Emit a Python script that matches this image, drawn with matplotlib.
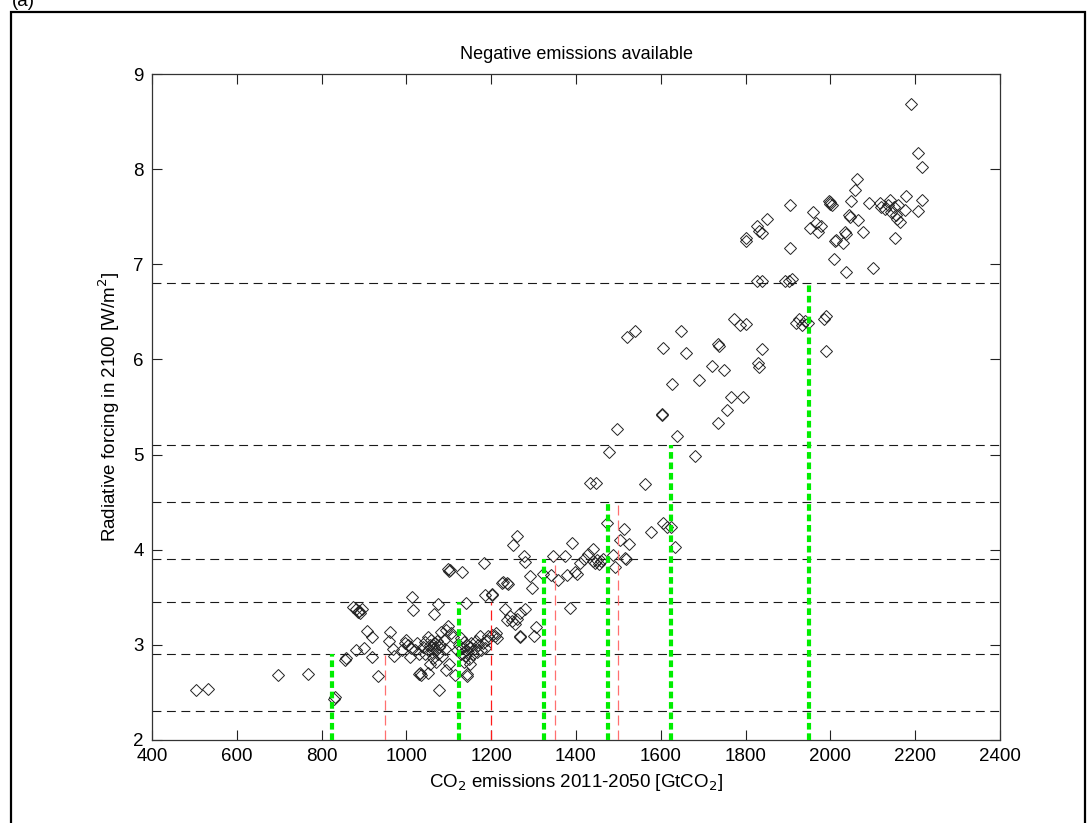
import matplotlib
matplotlib.use("Agg")
import matplotlib.pyplot as plt
from matplotlib.patches import Rectangle

plt.rcParams['font.family'] = ['Liberation Sans', 'DejaVu Sans']

# scenario results: cumulative CO2 2011-2050 vs forcing in 2100
emissions = [
    504, 531, 696, 767, 829, 831, 855, 858, 881,
    873, 880, 885, 890, 896, 888, 906, 920, 901, 919, 932,
    961, 960, 968, 971, 997, 1004, 1010, 1008, 990, 1000,
    1014, 1016, 1030, 1033, 1035, 1052, 1065, 1074, 1077,
    1040, 1045, 1050, 1055, 1058, 1060, 1062, 1065, 1067, 1070, 1072, 1075,
    1078, 1080, 1085, 1088, 1050, 1045, 1020, 1025, 1030, 1063, 1070, 1092, 1055,
    1082, 1094, 1105, 1098, 1110, 1093, 1115, 1100,
    1099, 1101, 1104, 1132, 1140, 1142, 1144,
    1120, 1125, 1128, 1132, 1135, 1138, 1140, 1143, 1146, 1148, 1150, 1153,
    1156, 1160, 1163, 1166, 1170, 1175, 1180, 1185, 1190, 1135, 1150, 1128,
    1173, 1193, 1203, 1209, 1211, 1213, 1203, 1185, 1201, 1183,
    1225, 1228, 1240, 1238, 1233, 1237, 1245, 1250, 1257, 1261, 1268, 1280,
    1268, 1269, 1302, 1306, 1280, 1296, 1260, 1252, 1277,
    1291, 1323, 1342, 1345, 1358, 1374, 1378, 1386, 1391, 1398, 1403, 1409,
    1420, 1429, 1441, 1440, 1445, 1450, 1455, 1460, 1463,
    1472, 1488, 1493, 1503, 1514, 1516, 1518, 1524,
    1433, 1446, 1477, 1496, 1563, 1578, 1606, 1614, 1623, 1634, 1639,
    1602, 1604, 1627, 1520, 1540, 1606, 1648, 1659,
    1681, 1689, 1721, 1734, 1735, 1737, 1750, 1755, 1765, 1795,
    1773, 1787, 1801, 1830, 1832, 1839, 1828, 1838, 1893, 1903,
    1919, 1925, 1932, 1940, 1947, 1985, 1990, 1989,
    1800, 1802, 1828, 1832, 1838, 1850, 1905, 1905, 1910,
    1953, 1960, 1965, 1970, 1977, 1997, 2000, 1998, 2003,
    2009, 2011, 2014, 2030, 2034, 2036, 2036,
    2045, 2047, 2049, 2059, 2062, 2064, 2078, 2092, 2101,
    2117, 2120, 2128, 2135, 2140, 2143, 2150, 2152, 2157, 2160, 2165, 2155,
    2177, 2178, 2189, 2206, 2206, 2215, 2217,
]
forcing = [
    2.53, 2.54, 2.68, 2.69, 2.43, 2.45, 2.84, 2.86, 2.95,
    3.40, 3.38, 3.35, 3.34, 3.38, 3.36, 3.15, 3.08, 2.97, 2.87, 2.67,
    3.14, 3.04, 2.96, 2.88, 3.02, 3.00, 2.97, 2.87, 2.95, 3.05,
    3.50, 3.37, 2.69, 2.70, 2.68, 2.70, 3.32, 3.43, 2.53,
    2.98, 3.03, 2.95, 3.00, 3.05, 2.92, 3.00, 2.97, 3.02, 2.95, 3.04, 2.90,
    2.98, 3.00, 2.88, 3.05, 3.08, 2.90, 2.95, 3.02, 2.90, 2.86, 2.82, 2.96, 2.80,
    3.14, 3.16, 3.12, 3.20, 3.08, 2.74, 2.68, 2.80,
    3.80, 3.78, 3.79, 3.77, 3.44, 2.67, 2.69,
    2.95, 3.00, 2.90, 2.97, 3.03, 2.88, 2.95, 3.00, 2.92, 2.85, 2.98, 3.02,
    2.90, 2.96, 3.04, 2.93, 3.00, 2.95, 3.02, 2.97, 3.05, 2.82, 2.80, 3.07,
    3.09, 3.09, 3.10, 3.09, 3.12, 3.07, 3.52, 3.52, 3.53, 3.86,
    3.65, 3.66, 3.64, 3.65, 3.38, 3.26, 3.30, 3.25, 3.22, 3.27, 3.33, 3.38,
    3.08, 3.09, 3.09, 3.19, 3.87, 3.60, 4.14, 4.05, 3.93,
    3.72, 3.75, 3.73, 3.93, 3.68, 3.93, 3.73, 3.39, 4.07, 3.77, 3.75, 3.86,
    3.90, 3.96, 4.01, 3.88, 3.86, 3.89, 3.85, 3.88, 3.90,
    4.28, 3.94, 3.82, 4.10, 4.22, 3.91, 3.90, 4.06,
    4.70, 4.70, 5.03, 5.27, 4.69, 4.19, 4.28, 4.24, 4.24, 4.03, 5.19,
    5.43, 5.42, 5.74, 6.24, 6.30, 6.12, 6.30, 6.07,
    4.98, 5.78, 5.93, 5.33, 6.16, 6.14, 5.89, 5.47, 5.61, 5.61,
    6.42, 6.36, 6.37, 5.96, 5.92, 6.11, 6.82, 6.82, 6.82, 6.82,
    6.38, 6.42, 6.36, 6.40, 6.38, 6.42, 6.46, 6.09,
    7.28, 7.24, 7.40, 7.35, 7.33, 7.48, 7.62, 7.17, 6.85,
    7.38, 7.55, 7.43, 7.34, 7.40, 7.66, 7.63, 7.65, 7.62,
    7.06, 7.24, 7.26, 7.22, 7.34, 7.32, 6.92,
    7.52, 7.50, 7.66, 7.78, 7.90, 7.47, 7.34, 7.64, 6.96,
    7.64, 7.60, 7.58, 7.62, 7.68, 7.55, 7.60, 7.28, 7.48, 7.62, 7.44, 7.52,
    7.57, 7.72, 8.68, 8.17, 7.56, 7.68, 8.02,
]

# forcing levels (horizontal reference lines)
levels = [2.3, 2.9, 3.45, 3.9, 4.5, 5.1, 6.8]

# emission budgets per forcing level
green_x = [825, 1125, 1325, 1475, 1625, 1950]
green_top = [2.9, 3.45, 3.9, 4.5, 5.1, 6.8]
red_x = [950, 1200, 1350, 1500]
red_top = [2.9, 3.45, 3.9, 4.5]
red_colors = ['#ff7070', '#ff1a1a', '#ff7070', '#ff7070']

fig = plt.figure(figsize=(10.88, 8.23), dpi=100)
ax = fig.add_axes([152 / 1088, 1 - 740 / 823, 848 / 1088, 666 / 823])

ax.hlines(levels, 400, 2400, colors='#1a1a1a', linewidth=0.8,
          linestyles=(0, (8, 5)), zorder=1)

ax.plot(emissions, forcing, linestyle='none', marker='D', markersize=6.6,
        markerfacecolor='none', markeredgecolor='#222222',
        markeredgewidth=0.7, zorder=2)

for x, top, c in zip(red_x, red_top, red_colors):
    ax.vlines(x, 2, top, colors=c, linewidth=0.9,
              linestyles=(0, (8, 4)), zorder=3)

ax.vlines(green_x, 2, green_top, colors='#00ee00', linewidth=3.0,
          linestyles=(0, (1.6, 0.9)), zorder=4)

ax.set_xlim(400, 2400)
ax.set_ylim(2, 9)
ax.set_xticks(range(400, 2401, 200))
ax.set_yticks(range(2, 10))
ax.tick_params(direction='in', length=7, width=0.8, top=True, right=True,
               labelsize=13.5, pad=6, colors='#222222', labelcolor='black')
for s in ax.spines.values():
    s.set_linewidth(0.9)
    s.set_color('#333333')

ax.set_title('Negative emissions available', fontsize=13, pad=11)
ax.set_xlabel('CO$_2$ emissions 2011-2050 [GtCO$_2$]', fontsize=13.5, labelpad=5)
ax.set_ylabel('Radiative forcing in 2100 [W/m$^2$]', fontsize=13.5, labelpad=8)

# outer panel frame and label
fig.add_artist(Rectangle((11 / 1088, -0.05), 1074 / 1088, 1.05 - 12 / 823,
                         transform=fig.transFigure, fill=False,
                         edgecolor='black', linewidth=1.6))
fig.text(12 / 1088, 1 - 6 / 823, '(a)', fontsize=13.5, va='baseline')

fig.savefig('out.png', dpi=100)
